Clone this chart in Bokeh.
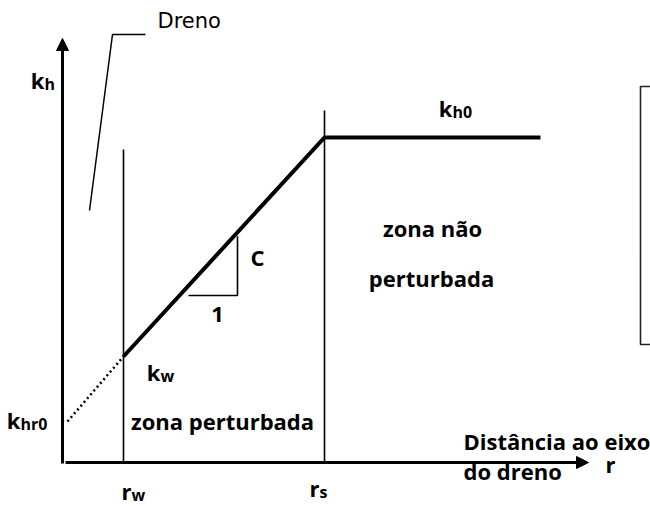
from bokeh.plotting import figure
from bokeh.models import Range1d, Arrow, NormalHead
from bokeh.core.properties import value
from bokeh.embed import file_html
from bokeh.resources import INLINE

W, H = 650, 506

# Schematic values in drawing units (k measured upward from the bottom edge)
r_axis = 62           # vertical k_h axis
r_w = 123             # drain radius
r_s = 324             # radius of the smear zone
r_far = 540           # end of the undisturbed plateau
r_axis_end = 588      # tip of the r axis
r_extrap = 67         # start of the dotted extrapolation
k_axis = 44           # level of the r axis
k_axis_top = 468      # tip of the k_h axis
k_hr0 = 85            # extrapolated permeability at r = 0
k_w = 150             # permeability at the drain wall
k_h0 = 369            # undisturbed permeability

profile_r = [r_w, r_s, r_far]
profile_k = [k_w, k_h0, k_h0]

# slope triangle (run = 1, rise = C)
tri_r = [188, 237]
tri_k = 211

# leader line to the drain label
leader_r = [145, 112, 89]
leader_k = [472, 472, 296]

# text box at the right edge
box_r = [640, 662]
box_k = [162, 420]

BOLD = value("Open Sans")
REG = value("DejaVu Sans")
FS = "22px"
FS_SUB = "16px"
DY = 6  # lift applied to text baselines

p = figure(width=W, height=H, x_range=Range1d(0, W), y_range=Range1d(0, H),
           output_backend="svg", toolbar_location=None, min_border=0)
p.axis.visible = False
p.grid.visible = False
p.outline_line_color = None
p.background_fill_color = "white"

# axes with arrow heads
p.add_layout(Arrow(end=NormalHead(size=12, fill_color="black", line_color="black", line_width=1),
                   x_start=r_axis, y_start=k_axis - 1, x_end=r_axis, y_end=k_axis_top,
                   line_width=3, line_color="black"))
p.add_layout(Arrow(end=NormalHead(size=12, fill_color="black", line_color="black", line_width=1),
                   x_start=r_axis + 3, y_start=k_axis, x_end=r_axis_end, y_end=k_axis,
                   line_width=3, line_color="black"))

# zone boundaries
p.segment(x0=[r_w, r_s], y0=[k_axis, k_axis], x1=[r_w, r_s], y1=[357, 396],
          line_width=1.6, line_color="black")

# permeability profile
p.line(profile_r, profile_k, line_width=4, line_color="black", line_join="miter")
p.line([r_extrap, r_w], [k_hr0, k_w], line_width=2.5, line_color="black",
       line_dash="2 3")

# slope triangle
slope = (k_h0 - k_w) / (r_s - r_w)
k_top = k_w + (tri_r[1] - r_w) * slope - 4
p.line([tri_r[0], tri_r[1], tri_r[1]], [tri_k, tri_k, k_top],
       line_width=1.6, line_color="black")

# drain leader and text box
p.line(leader_r, leader_k, line_width=1.5, line_color="black")
p.quad(left=box_r[0], right=box_r[1], bottom=box_k[0], top=box_k[1],
       fill_color=None, line_color="#222222", line_width=1.6)


def bold(x, y, txt, align="left", size=FS):
    p.text(x=[x], y=[y + DY], text=[txt], text_font=BOLD, text_font_style="bold",
           text_font_size=size, text_align=align, text_baseline="alphabetic",
           text_color="black")


def sub_label(x, y, main, sub):
    # main symbol right-aligned at x, subscript starting at x, slightly lower
    bold(x, y, main, align="right")
    bold(x, y - 4, sub, align="left", size=FS_SUB)


sub_label(44, 506 - 85, "k", "h")
sub_label(452, 506 - 113, "k", "h0")
sub_label(160, 506 - 377, "k", "w")
sub_label(20, 506 - 425, "k", "hr0")
sub_label(131, 506 - 496, "r", "w")
sub_label(319, 506 - 493, "r", "s")

bold(250, 244, "C")
bold(217, 186, "1", align="center")
bold(222, 80, "zona perturbada", align="center")
bold(432, 273, "zona não", align="center")
bold(431, 223, "perturbada", align="center")
bold(463, 60, "Distância ao eixo")
bold(463, 30, "do dreno")
bold(605, 37, "r")

p.text(x=[157], y=[480 + DY], text=["Dreno"], text_font=REG, text_font_size="21px",
       text_baseline="alphabetic", text_color="black")

open("out.html", "w").write(file_html(p, INLINE))
